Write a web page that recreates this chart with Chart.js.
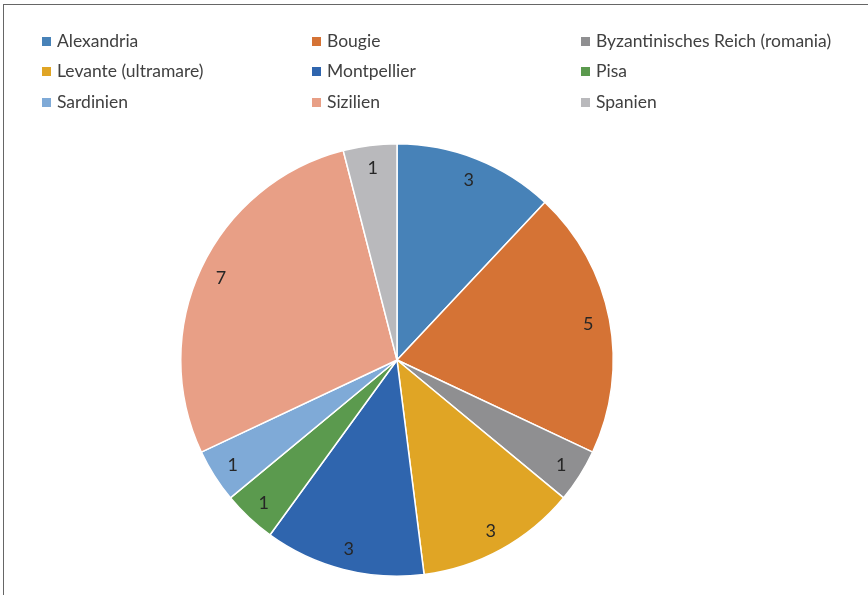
<!DOCTYPE html>
<html>
<head>
<meta charset="utf-8">
<script src="https://cdn.jsdelivr.net/npm/chart.js@4"></script>
<style>
  html, body { margin: 0; padding: 0; background: #fff; }
  #wrap { position: relative; width: 868px; height: 595px; overflow: hidden; }
  #frame { position: absolute; left: 3px; top: 4px; width: 880px; height: 620px; border-top: 1.5px solid #666; border-left: 1.5px solid #666; box-sizing: border-box; }
  canvas { position: absolute; left: 0; top: 0; }
  .leg { position: absolute; font-family: Lato, "Open Sans", sans-serif; font-size: 17.5px; color: #404040; white-space: nowrap; line-height: 20px; }
  .leg i { position: absolute; width: 9px; height: 9px; top: 6px; }
</style>
</head>
<body>
<div id="wrap">
  <div id="frame"></div>
  <canvas id="c" width="868" height="595"></canvas>
</div>
<script>
const categories = ["Alexandria", "Bougie", "Byzantinisches Reich (romania)", "Levante (ultramare)", "Montpellier", "Pisa", "Sardinien", "Sizilien", "Spanien"];
const values = [3, 5, 1, 3, 3, 1, 1, 7, 1];
const colors = ["#4782B8", "#D57335", "#8F8F91", "#E0A525", "#2F65AE", "#5B9A4E", "#7FAAD7", "#E89F86", "#B9B9BC"];

// HTML legend, 3 columns
const colX = [42, 312, 581];
const rowY = [31, 61, 92];
const wrap = document.getElementById('wrap');
categories.forEach((name, i) => {
  const d = document.createElement('div');
  d.className = 'leg';
  d.style.left = colX[i % 3] + 'px';
  d.style.top = rowY[Math.floor(i / 3)] + 'px';
  d.style.paddingLeft = '15px';
  const sw = document.createElement('i');
  sw.style.left = '0px';
  sw.style.background = colors[i];
  d.appendChild(sw);
  d.appendChild(document.createTextNode(name));
  wrap.appendChild(d);
});

const labelPlugin = {
  id: 'sliceLabels',
  afterDatasetsDraw(chart) {
    const ctx = chart.ctx;
    const meta = chart.getDatasetMeta(0);
    ctx.save();
    ctx.font = '18px Lato, "Open Sans", sans-serif';
    ctx.fillStyle = '#262626';
    ctx.textAlign = 'center';
    ctx.textBaseline = 'middle';
    meta.data.forEach((arc, i) => {
      const p = arc.getProps(['x', 'y', 'startAngle', 'endAngle', 'outerRadius'], true);
      const a = (p.startAngle + p.endAngle) / 2;
      const r = p.outerRadius * 0.9;
      ctx.fillText(String(values[i]), p.x + Math.cos(a) * r, p.y + Math.sin(a) * r + 1);
    });
    ctx.restore();
  }
};

new Chart(document.getElementById('c'), {
  type: 'pie',
  data: {
    labels: categories,
    datasets: [{
      data: values,
      backgroundColor: colors,
      borderColor: '#ffffff',
      borderWidth: 1.5,
      hoverOffset: 0
    }]
  },
  options: {
    responsive: false,
    animation: false,
    layout: { padding: { left: 180, right: 254, top: 143, bottom: 18 } },
    plugins: { legend: { display: false }, tooltip: { enabled: false } }
  },
  plugins: [labelPlugin]
});
</script>
</body>
</html>
